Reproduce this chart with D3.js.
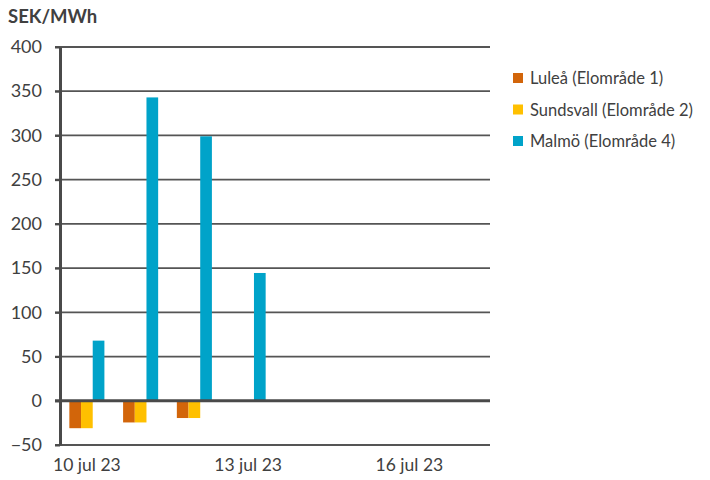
<!DOCTYPE html>
<html>
<head>
<meta charset="utf-8">
<script src="https://cdn.jsdelivr.net/npm/d3@7"></script>
<style>
  body { margin: 0; background: #fff; }
  svg { font-family: Lato, "Open Sans", sans-serif; }
</style>
</head>
<body>
<svg id="chart" width="710" height="480"></svg>
<script>
// Data
const days = ["10 jul 23", "11 jul 23", "12 jul 23", "13 jul 23", "14 jul 23", "15 jul 23", "16 jul 23", "17 jul 23"];
const tickDays = ["10 jul 23", "13 jul 23", "16 jul 23"];
const seriesNames = ["Luleå (Elområde 1)", "Sundsvall (Elområde 2)", "Malmö (Elområde 4)"];
const seriesColors = ["#D2650A", "#FFC000", "#00A3C9"];
const lulea = [-31, -24.5, -19.5, null, null, null, null, null];
const sundsvall = [-31, -24.5, -19.5, null, null, null, null, null];
const malmo = [68, 343, 299, 144.5, null, null, null, null];
const yTicks = [-50, 0, 50, 100, 150, 200, 250, 300, 350, 400];

const series = [lulea, sundsvall, malmo];

const svg = d3.select("#chart"),
      margin = { top: 47, right: 220, bottom: 35, left: 60 },
      width = +svg.attr("width"),
      height = +svg.attr("height");

const x = d3.scaleBand().domain(days).range([margin.left, width - margin.right]);
const y = d3.scaleLinear().domain([-50, 400]).range([height - margin.bottom, margin.top]);
const xs = d3.scaleBand().domain(d3.range(series.length))
    .range([0, x.bandwidth()]).paddingInner(0).paddingOuter(0.8);

// gridlines
svg.append("g")
    .selectAll("line")
    .data(yTicks.filter(d => d !== 0 && d !== -50))
    .enter()
    .append("line")
    .attr("x1", margin.left - 5)
    .attr("x2", width - margin.right)
    .attr("y1", d => y(d))
    .attr("y2", d => y(d))
    .attr("stroke", "#555")
    .attr("stroke-width", 1.8);

// bars
series.forEach((vals, i) => {
    svg.append("g")
        .selectAll("rect")
        .data(vals.map((v, j) => ({ day: days[j], v: v })).filter(d => d.v !== null))
        .enter()
        .append("rect")
        .attr("x", d => x(d.day) + xs(i))
        .attr("width", xs.bandwidth())
        .attr("y", d => y(Math.max(0, d.v)))
        .attr("height", d => Math.abs(y(d.v) - y(0)))
        .attr("fill", seriesColors[i]);
});

// bottom line at -50
svg.append("line")
    .attr("x1", margin.left - 5).attr("x2", width - margin.right)
    .attr("y1", y(-50)).attr("y2", y(-50))
    .attr("stroke", "#555").attr("stroke-width", 1.8);

// zero line
svg.append("line")
    .attr("x1", margin.left - 5).attr("x2", width - margin.right)
    .attr("y1", y(0)).attr("y2", y(0))
    .attr("stroke", "#4a4a4a").attr("stroke-width", 3);

// y axis
const yAxis = svg.append("g")
    .attr("transform", `translate(${margin.left},0)`)
    .call(d3.axisLeft(y).tickValues(yTicks).tickSize(5).tickSizeOuter(0).tickPadding(13));
yAxis.select(".domain").attr("stroke", "#4a4a4a").attr("stroke-width", 3);
yAxis.selectAll(".tick line").attr("stroke", "#4a4a4a").attr("stroke-width", 2);
yAxis.selectAll(".tick text")
    .attr("font-size", 18).attr("fill", "#404040")
    .attr("font-family", "Lato, 'Open Sans', sans-serif");

// x axis labels
const xAxis = svg.append("g")
    .attr("transform", `translate(0,${y(-50)})`)
    .call(d3.axisBottom(x).tickValues(tickDays).tickSize(0).tickPadding(14));
xAxis.select(".domain").remove();
xAxis.selectAll(".tick text")
    .attr("font-size", 17.5).attr("fill", "#404040")
    .attr("font-family", "Lato, 'Open Sans', sans-serif");

// unit title
svg.append("text")
    .attr("x", 8).attr("y", 23)
    .attr("font-size", 18.5).attr("font-weight", "bold").attr("fill", "#404040")
    .text("SEK/MWh");

// legend
const legend = svg.append("g")
    .selectAll("g")
    .data(seriesNames)
    .enter()
    .append("g")
    .attr("transform", (d, i) => `translate(513,${73 + i * 31.5})`);
legend.append("rect")
    .attr("width", 10).attr("height", 10)
    .attr("fill", (d, i) => seriesColors[i]);
legend.append("text")
    .attr("x", 17).attr("y", 11)
    .attr("font-size", 16.5).attr("fill", "#404040")
    .text(d => d);
</script>
</body>
</html>
